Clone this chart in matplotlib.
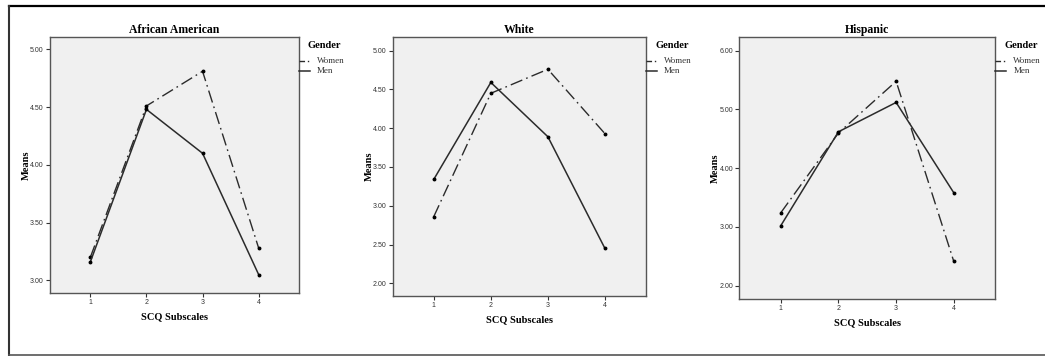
import matplotlib
matplotlib.use("Agg")
import matplotlib.pyplot as plt
from matplotlib.lines import Line2D

subscales = [1, 2, 3, 4]
titles = ["African American", "White", "Hispanic"]
women_aa = [3.20, 4.51, 4.81, 3.28]
men_aa = [3.16, 4.48, 4.10, 3.05]
women_wh = [2.86, 4.45, 4.76, 3.93]
men_wh = [3.34, 4.59, 3.89, 2.45]
women_hi = [3.24, 4.60, 5.48, 2.41]
men_hi = [3.02, 4.62, 5.12, 3.58]
yticks_aa = [3.0, 3.5, 4.0, 4.5, 5.0]
yticks_wh = [2.0, 2.5, 3.0, 3.5, 4.0, 4.5, 5.0]
yticks_hi = [2.0, 3.0, 4.0, 5.0, 6.0]

W, H = 1045, 356
fig = plt.figure(figsize=(W / 100, H / 100), dpi=100)
fig.patch.set_facecolor("white")

serif = ["Liberation Serif", "DejaVu Serif"]
sans = ["Liberation Sans", "DejaVu Sans"]

# axes boxes in pixels: left, top, right, bottom
boxes = [(50, 37, 299, 293), (392.7, 36.7, 646, 295.7), (739.3, 37.3, 995.3, 299)]
ylims = [(2.89, 5.107), (1.84, 5.18), (1.77, 6.23)]
data = [(women_aa, men_aa, yticks_aa), (women_wh, men_wh, yticks_wh), (women_hi, men_hi, yticks_hi)]

line_col = "#2b2b2b"
wdash = (0, (9, 3, 1.2, 3))

for i, (box, yl, (wv, mv, yt)) in enumerate(zip(boxes, ylims, data)):
    l, t, r, b = box
    ax = fig.add_axes([l / W, 1 - b / H, (r - l) / W, (b - t) / H])
    ax.set_facecolor("#f0f0f0")
    for s in ax.spines.values():
        s.set_color("#555555")
        s.set_linewidth(1.0)
    ax.plot(subscales, wv, color=line_col, lw=1.0, linestyle=wdash,
            marker="o", ms=1.8, mfc="black", mec="black")
    ax.plot(subscales, mv, color=line_col, lw=1.1, linestyle="-",
            marker="o", ms=1.8, mfc="black", mec="black")
    ax.set_xlim(0.28, 4.72)
    ax.set_ylim(*yl)
    ax.set_xticks(subscales)
    ax.set_xticklabels([str(s) for s in subscales], fontsize=5, family=sans, color="#333333")
    ax.set_yticks(yt)
    ax.set_yticklabels([f"{v:.2f}" for v in yt], fontsize=5, family=sans, color="#333333")
    ax.tick_params(length=3, width=0.8, color="#333333", pad=1.5)
    ax.set_title(titles[i], fontsize=8.5, family=serif, fontweight="bold", pad=3)
    ax.set_xlabel("SCQ Subscales", fontsize=7.5, family=serif, fontweight="bold", labelpad=4.5)
    ax.set_ylabel("Means", fontsize=7.5, family=serif, fontweight="bold", labelpad=-0.5)

    # legend
    x0 = r / W
    fig.text((r + 9) / W, 1 - 45 / H, "Gender", fontsize=7.5, family=serif,
             fontweight="bold", va="center", ha="left")
    fig.add_artist(Line2D([x0, (r + 11) / W], [1 - 61 / H] * 2, color=line_col, lw=1.0,
                          linestyle=(0, (4, 2, 1, 2))))
    fig.add_artist(Line2D([x0, (r + 11) / W], [1 - 71 / H] * 2, color=line_col, lw=1.1))
    fig.text((r + 18) / W, 1 - 61 / H, "Women", fontsize=6.5, family=serif,
             va="center", ha="left", color="#333333")
    fig.text((r + 18) / W, 1 - 71 / H, "Men", fontsize=6.5, family=serif,
             va="center", ha="left", color="#333333")

# outer frame
fig.add_artist(Line2D([8.7 / W, 1.0], [1 - 5.5 / H] * 2, color="black", lw=1.6))
fig.add_artist(Line2D([8.7 / W, 8.7 / W], [1 - 5.5 / H, 1 - 355 / H], color="#333333", lw=1.5))
fig.add_artist(Line2D([8.7 / W, 1.0], [1 - 355 / H] * 2, color="#555555", lw=1.2))

fig.savefig("out.png", dpi=100)
